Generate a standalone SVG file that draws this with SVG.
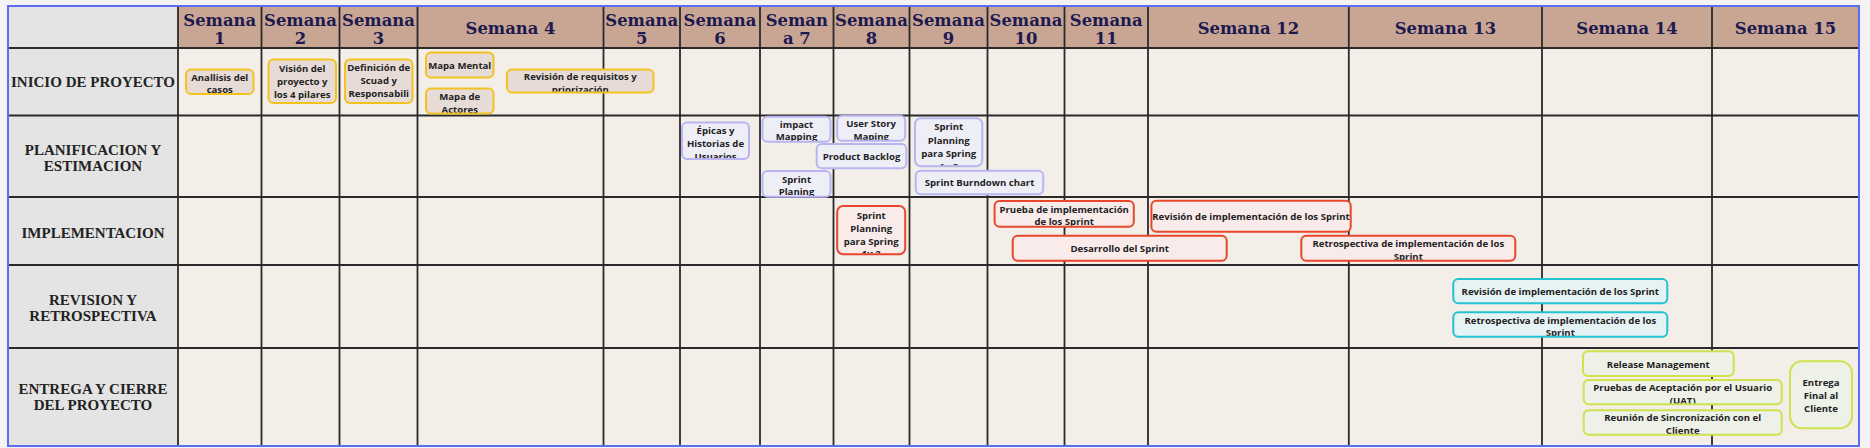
<svg xmlns="http://www.w3.org/2000/svg" width="1870" height="448" viewBox="0 0 1870 448">
<style>
.hd{font-family:"DejaVu Serif",serif;font-weight:700;font-size:16.4px;fill:#1c1a4f;text-anchor:middle}
.rl{font-family:"Liberation Serif",serif;font-weight:700;font-size:15px;fill:#222;text-anchor:middle}
.nt{font-family:"Open Sans",sans-serif;font-weight:700;font-size:9.6px;fill:#222;text-anchor:middle}
.y{fill:#e7dbd7;stroke:#f4c21f;stroke-width:2}
.p{fill:#eeeef7;stroke:#b9b5f2;stroke-width:2}
.r{fill:#f8ebea;stroke:#e8472c;stroke-width:2}
.c{fill:#e6f3f4;stroke:#22c3cf;stroke-width:2}
.g{fill:#eef1e7;stroke:#cde24c;stroke-width:2}
.grid{stroke:#2a2a2a;stroke-width:1.8;fill:none}
</style>
<defs>
<clipPath id="k5"><rect x="427" y="89.5" width="65.5" height="23"/></clipPath>
<clipPath id="k6"><rect x="508" y="70.5" width="144.5" height="21"/></clipPath>
<clipPath id="k7"><rect x="683" y="123.5" width="65" height="34.5"/></clipPath>
<clipPath id="k8"><rect x="763.5" y="117.7" width="66" height="23"/></clipPath>
<clipPath id="k9"><rect x="838.2" y="116.7" width="66" height="23"/></clipPath>
<clipPath id="k11"><rect x="763.5" y="172" width="66" height="23.7"/></clipPath>
<clipPath id="k12"><rect x="916" y="119.3" width="65.3" height="46"/></clipPath>
<clipPath id="k14"><rect x="838.2" y="207" width="66" height="46.3"/></clipPath>
<clipPath id="k15"><rect x="995.6" y="202" width="137.2" height="23.7"/></clipPath>
<clipPath id="k18"><rect x="1302.3" y="236.7" width="212" height="23"/></clipPath>
<clipPath id="k20"><rect x="1454.3" y="313.3" width="212" height="22.4"/></clipPath>
<clipPath id="k22"><rect x="1584.7" y="381" width="196" height="22.3"/></clipPath>
<clipPath id="k23"><rect x="1584.7" y="411.3" width="196" height="22.4"/></clipPath>
</defs>
<rect x="0" y="0" width="1870" height="448" fill="#f3f3f3"/>
<g id="table">
<rect x="8" y="6" width="1851" height="440" fill="#f3efe8"/>
<rect x="178" y="6" width="1681" height="42" fill="#c9a594"/>
<rect x="8" y="6" width="170" height="440" fill="#e4e4e4"/>
<path class="grid" d="M178 6V446M261.5 6V446M339.5 6V446M417.5 6V446M603.5 6V446M680 6V446M760 6V446M833.5 6V446M909.5 6V446M987.5 6V446M1064.5 6V446M1148 6V446M1348.8 6V446M1542 6V446M1712 6V446M8 48H1859M8 115.5H1859M8 197H1859M8 265H1859M8 348H1859"/>
<rect x="8" y="6" width="1851" height="440" fill="none" stroke="#5a6cf0" stroke-width="2"/>
</g>
<g id="header">
<text class="hd" x="219.75" y="25.5">Semana</text><text class="hd" x="219.75" y="43.5">1</text>
<text class="hd" x="300.5" y="25.5">Semana</text><text class="hd" x="300.5" y="43.5">2</text>
<text class="hd" x="378.5" y="25.5">Semana</text><text class="hd" x="378.5" y="43.5">3</text>
<text class="hd" x="510.5" y="34">Semana 4</text>
<text class="hd" x="641.75" y="25.5">Semana</text><text class="hd" x="641.75" y="43.5">5</text>
<text class="hd" x="720" y="25.5">Semana</text><text class="hd" x="720" y="43.5">6</text>
<text class="hd" x="796.75" y="25.5">Seman</text><text class="hd" x="796.75" y="43.5">a 7</text>
<text class="hd" x="871.5" y="25.5">Semana</text><text class="hd" x="871.5" y="43.5">8</text>
<text class="hd" x="948.5" y="25.5">Semana</text><text class="hd" x="948.5" y="43.5">9</text>
<text class="hd" x="1026" y="25.5">Semana</text><text class="hd" x="1026" y="43.5">10</text>
<text class="hd" x="1106.25" y="25.5">Semana</text><text class="hd" x="1106.25" y="43.5">11</text>
<text class="hd" x="1248.4" y="34">Semana 12</text>
<text class="hd" x="1445.4" y="34">Semana 13</text>
<text class="hd" x="1627" y="34">Semana 14</text>
<text class="hd" x="1785.5" y="34">Semana 15</text>
</g>
<g id="row-labels">
<text class="rl" x="93" y="87">INICIO DE PROYECTO</text>
<text class="rl" x="93" y="154.5">PLANIFICACION Y</text><text class="rl" x="93" y="170.5">ESTIMACION</text>
<text class="rl" x="93" y="237.5">IMPLEMENTACION</text>
<text class="rl" x="93" y="304.5">REVISION Y</text><text class="rl" x="93" y="320.5">RETROSPECTIVA</text>
<text class="rl" x="93" y="394">ENTREGA Y CIERRE</text><text class="rl" x="93" y="410">DEL PROYECTO</text>
</g>
<g id="n-analisis"><rect class="y" x="186" y="69.5" width="67.5" height="24.5" rx="5"/><text class="nt" x="219.75" y="80.7">Anallisis del</text><text class="nt" x="219.75" y="92.8">casos</text></g>
<g id="n-vision"><rect class="y" x="268.5" y="59.5" width="67.5" height="43.5" rx="5"/><text class="nt" x="302.25" y="71.8">Visión del</text><text class="nt" x="302.25" y="84.8">proyecto y</text><text class="nt" x="302.25" y="97.8">los 4 pilares</text></g>
<g id="n-definicion"><rect class="y" x="345" y="59.5" width="67.5" height="43.5" rx="5"/><text class="nt" x="378.75" y="71.3">Definición de</text><text class="nt" x="378.75" y="84.2">Scuad y</text><text class="nt" x="378.75" y="97">Responsabili</text></g>
<g id="n-mapa-mental"><rect class="y" x="426" y="52.5" width="67.5" height="25" rx="5"/><text class="nt" x="459.75" y="68.5">Mapa Mental</text></g>
<g id="n-mapa-actores"><rect class="y" x="426" y="88.5" width="67.5" height="25" rx="5"/><g clip-path="url(#k5)"><text class="nt" x="459.75" y="100.2">Mapa de</text><text class="nt" x="459.75" y="112.5">Actores</text></g></g>
<g id="n-revision-requisitos"><rect class="y" x="507" y="69.5" width="146.5" height="23" rx="5"/><g clip-path="url(#k6)"><text class="nt" x="580.25" y="80.2">Revisión de requisitos y</text><text class="nt" x="580.25" y="92.8">priorización</text></g></g>
<g id="n-epicas"><rect class="p" x="682" y="122.5" width="67" height="36.5" rx="5"/><g clip-path="url(#k7)"><text class="nt" x="715.5" y="133.5">Épicas y</text><text class="nt" x="715.5" y="146.8">Historias de</text><text class="nt" x="715.5" y="159.5">Usuarios</text></g></g>
<g id="n-impact"><rect class="p" x="762.5" y="116.7" width="68" height="25" rx="5"/><g clip-path="url(#k8)"><text class="nt" x="796.5" y="127.5">impact</text><text class="nt" x="796.5" y="140.2">Mapping</text></g></g>
<g id="n-user-story"><rect class="p" x="837.2" y="115.7" width="68" height="25" rx="5"/><g clip-path="url(#k9)"><text class="nt" x="871.2" y="126.8">User Story</text><text class="nt" x="871.2" y="139.5">Maping</text></g></g>
<g id="n-backlog"><rect class="p" x="816.7" y="144" width="89.7" height="24.3" rx="5"/><text class="nt" x="861.5" y="160.2">Product Backlog</text></g>
<g id="n-sprint-planing"><rect class="p" x="762.5" y="171" width="68" height="25.7" rx="5"/><g clip-path="url(#k11)"><text class="nt" x="796.5" y="182.5">Sprint</text><text class="nt" x="796.5" y="195.2">Planing</text></g></g>
<g id="n-sprint-planning-p"><rect class="p" x="915" y="118.3" width="67.3" height="48" rx="6"/><g clip-path="url(#k12)"><text class="nt" x="948.7" y="130.2">Sprint</text><text class="nt" x="948.7" y="143.5">Planning</text><text class="nt" x="948.7" y="156.8">para Spring</text><text class="nt" x="948.7" y="169.5">1y 2</text></g></g>
<g id="n-burndown"><rect class="p" x="915.7" y="170.7" width="127.5" height="23.5" rx="5"/><text class="nt" x="979.5" y="186.2">Sprint Burndown chart</text></g>
<g id="n-sprint-planning-r"><rect class="r" x="837.2" y="206" width="68" height="48.3" rx="6"/><g clip-path="url(#k14)"><text class="nt" x="871.2" y="218.5">Sprint</text><text class="nt" x="871.2" y="231.5">Planning</text><text class="nt" x="871.2" y="244.5">para Spring</text><text class="nt" x="871.2" y="257.3">1y 2</text></g></g>
<g id="n-prueba"><rect class="r" x="994.6" y="201" width="139.2" height="25.7" rx="5"/><g clip-path="url(#k15)"><text class="nt" x="1064.2" y="212.5">Prueba de implementación</text><text class="nt" x="1064.2" y="225.2">de los Sprint</text></g></g>
<g id="n-revision-impl-r"><rect class="r" x="1151.4" y="200.7" width="199.3" height="31" rx="5"/><text class="nt" x="1251" y="220.2">Revisión de implementación de los Sprint</text></g>
<g id="n-desarrollo"><rect class="r" x="1012.7" y="235.7" width="214" height="25" rx="5"/><text class="nt" x="1119.7" y="251.8">Desarrollo del Sprint</text></g>
<g id="n-retro-r"><rect class="r" x="1301.3" y="235.7" width="214" height="25" rx="5"/><g clip-path="url(#k18)"><text class="nt" x="1408.3" y="246.8">Retrospectiva de implementación de los</text><text class="nt" x="1408.3" y="260">Sprint</text></g></g>
<g id="n-revision-c"><rect class="c" x="1453.3" y="279" width="214" height="24.3" rx="5"/><text class="nt" x="1560.3" y="295.2">Revisión de implementación de los Sprint</text></g>
<g id="n-retro-c"><rect class="c" x="1453.3" y="312.3" width="214" height="24.4" rx="5"/><g clip-path="url(#k20)"><text class="nt" x="1560.3" y="323.5">Retrospectiva de implementación de los</text><text class="nt" x="1560.3" y="335.8">Sprint</text></g></g>
<g id="n-release"><rect class="g" x="1583" y="351.3" width="150.7" height="24.7" rx="5"/><text class="nt" x="1658.3" y="367.5">Release Management</text></g>
<g id="n-uat"><rect class="g" x="1583.7" y="380" width="198" height="24.3" rx="5"/><g clip-path="url(#k22)"><text class="nt" x="1682.7" y="390.8">Pruebas de Aceptación por el Usuario</text><text class="nt" x="1682.7" y="403.5">(UAT)</text></g></g>
<g id="n-reunion"><rect class="g" x="1583.7" y="410.3" width="198" height="24.4" rx="5"/><g clip-path="url(#k23)"><text class="nt" x="1682.7" y="420.8">Reunión de Sincronización con el</text><text class="nt" x="1682.7" y="433.5">Cliente</text></g></g>
<g id="n-entrega"><rect class="g" x="1790" y="361.3" width="62" height="67" rx="12"/><text class="nt" x="1821" y="386.2">Entrega</text><text class="nt" x="1821" y="399.2">Final al</text><text class="nt" x="1821" y="412.2">Cliente</text></g>
<g id="connectors"/>
</svg>
